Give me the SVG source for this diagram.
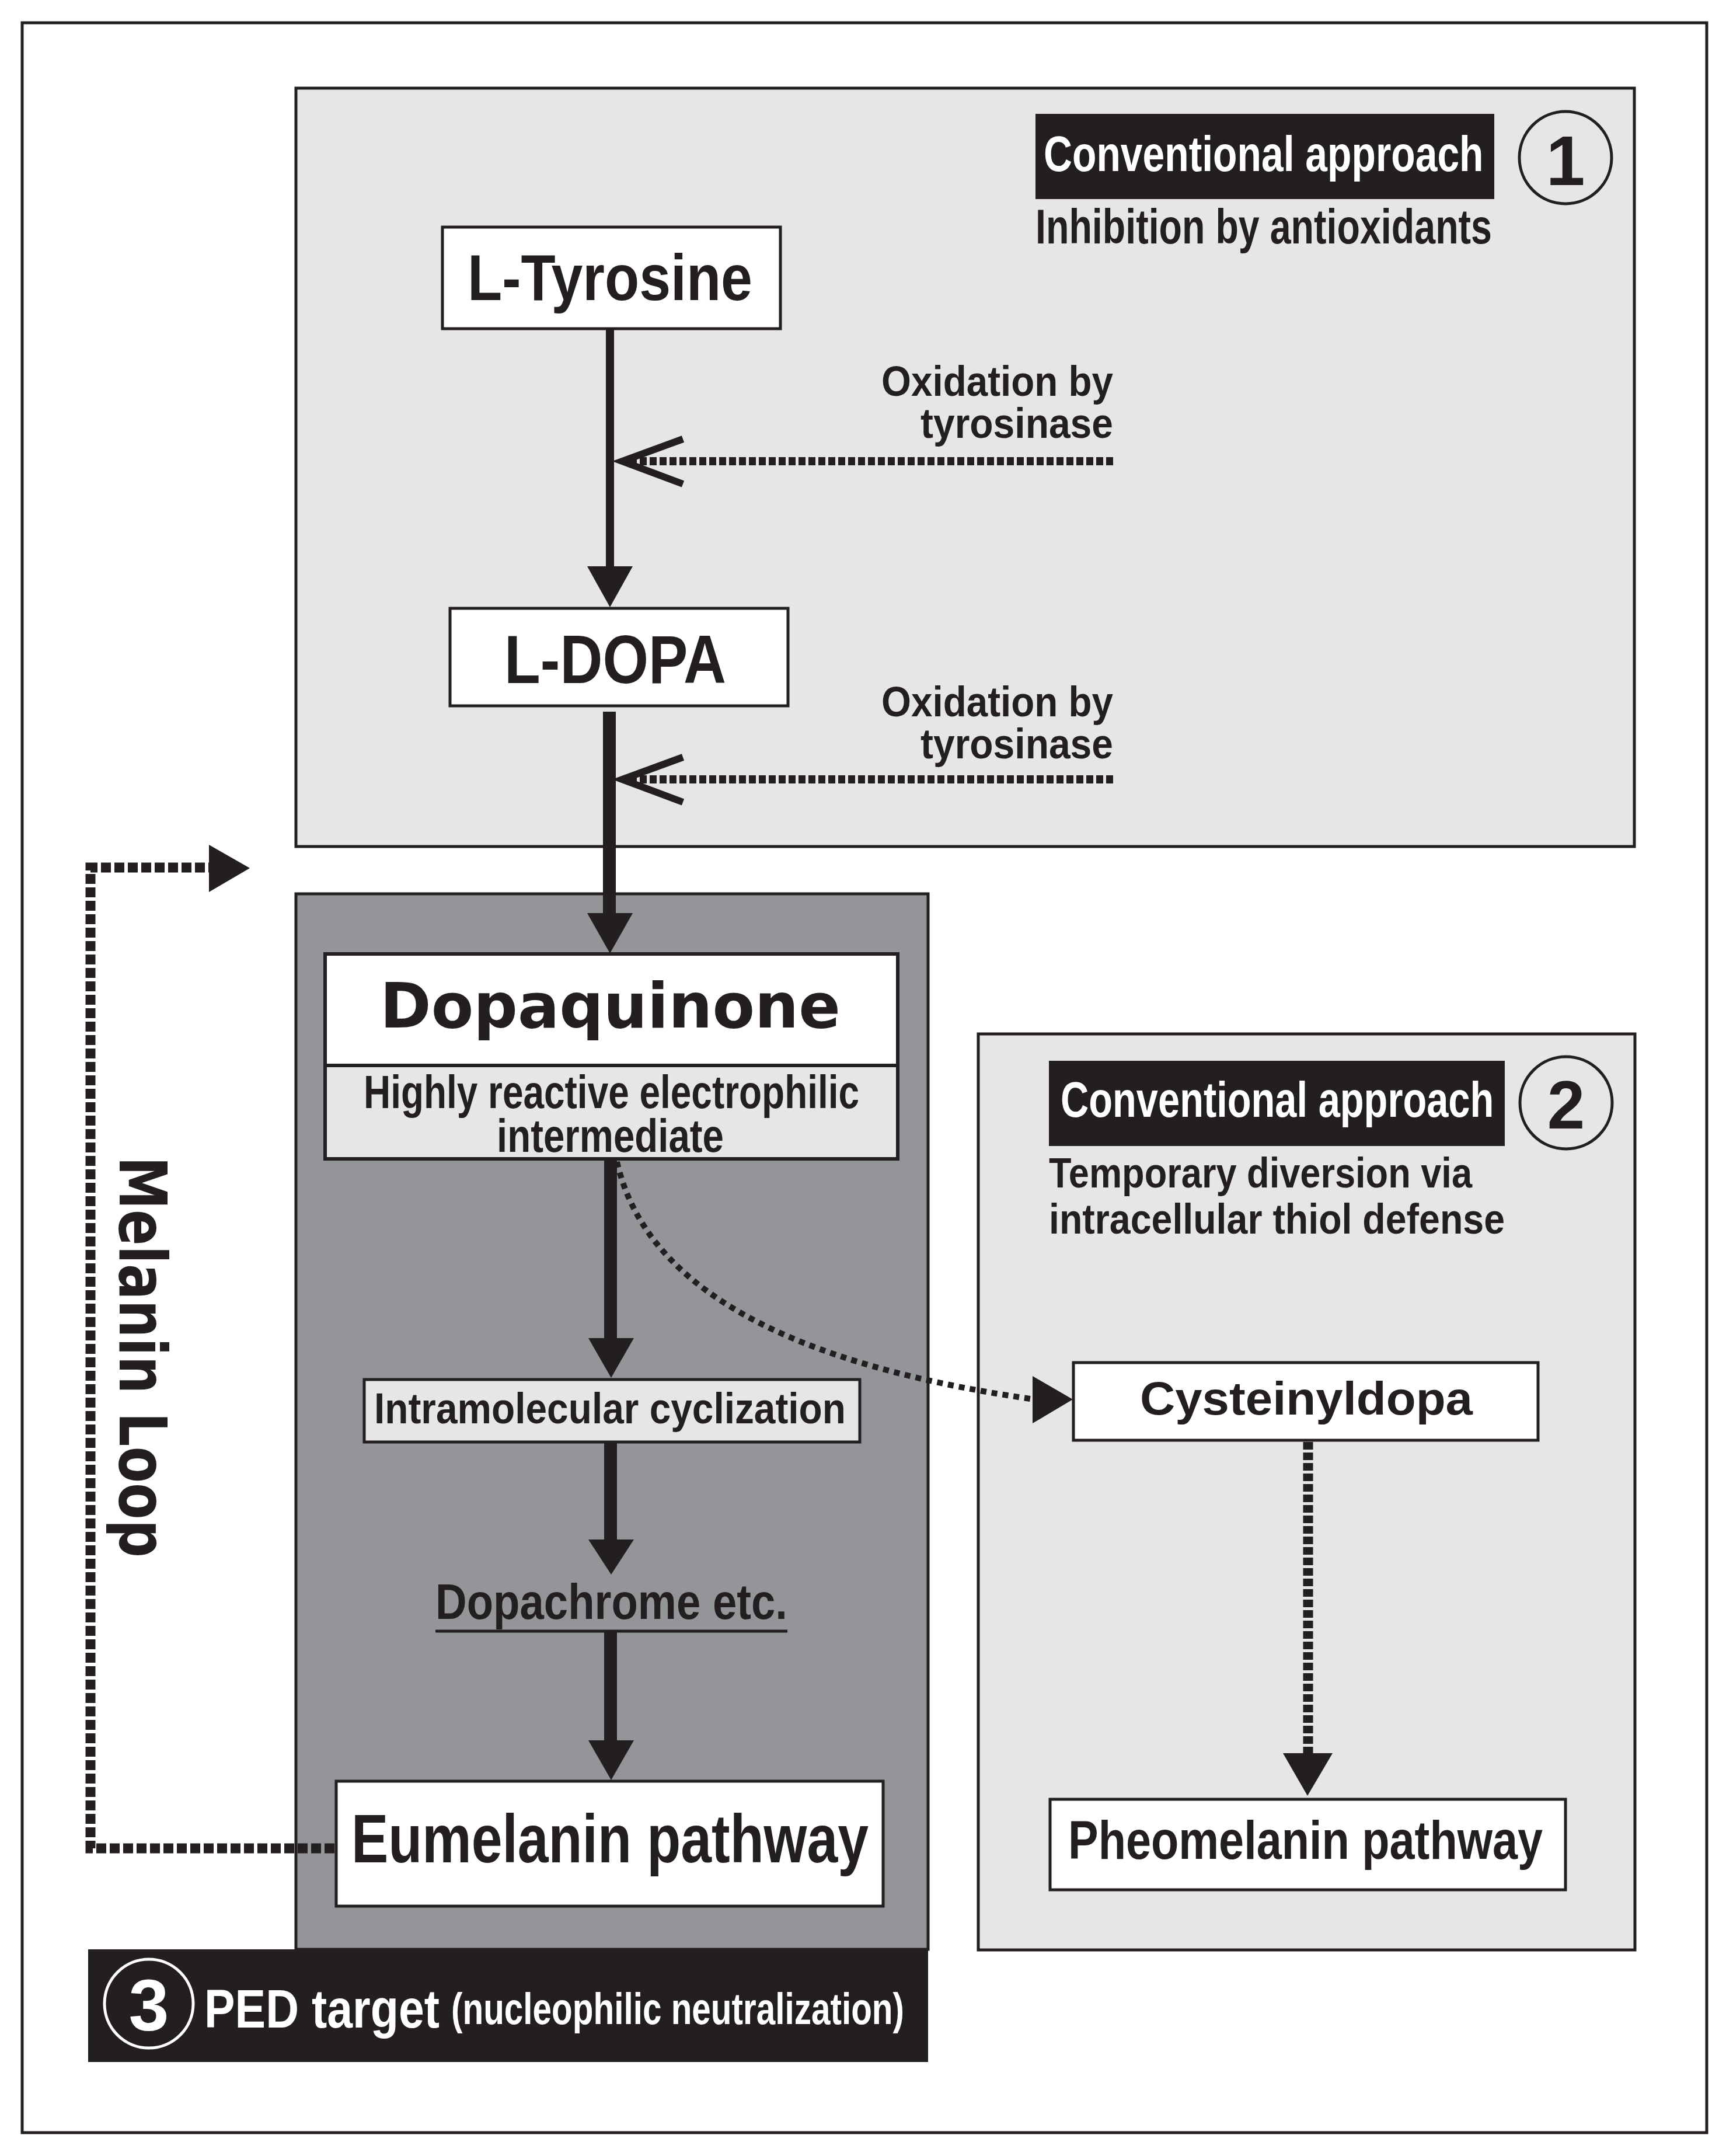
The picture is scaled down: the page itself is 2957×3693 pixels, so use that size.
<svg xmlns="http://www.w3.org/2000/svg" width="2957" height="3693" viewBox="0 0 2957 3693">
<style>
.frame{fill:#ffffff;stroke:#231f20;stroke-width:5}
.light{fill:#e6e6e7;stroke:#231f20;stroke-width:5}
.dark{fill:#939598;stroke:#231f20;stroke-width:5}
.blk{fill:#231f20}
.box{fill:#ffffff;stroke:#231f20;stroke-width:5}
.lbox{fill:#e6e6e7;stroke:#231f20;stroke-width:5}
.t{font-family:"Liberation Sans",Arial,sans-serif;fill:#231f20;font-weight:bold}
.w{fill:#ffffff}
.wide{font-family:"DejaVu Sans",Verdana,sans-serif;font-weight:bold;fill:#231f20}
.solid{stroke:#231f20;fill:none}
.dash{stroke:#231f20;fill:none;stroke-width:14;stroke-dasharray:12 5}
.head{fill:#231f20}
.chev{stroke:#231f20;stroke-width:12;fill:none}
</style>
<rect class="frame" x="38" y="39" width="2886" height="3614"/>

<g id="region1">
<rect class="light" x="507" y="151" width="2293" height="1299"/>
<rect class="blk" x="1774" y="195" width="786" height="146"/>
<text class="t w" transform="translate(1788,293) scale(0.798,1)" x="0" y="0" font-size="85">Conventional approach</text>
<circle cx="2682" cy="270" r="79" fill="none" stroke="#231f20" stroke-width="5"/>
<text class="t" x="2682" y="317" font-size="120" text-anchor="middle">1</text>
<text class="t" x="1774" y="417" font-size="84" textLength="782" lengthAdjust="spacingAndGlyphs">Inhibition by antioxidants</text>
</g>

<g id="region3">
<rect class="dark" x="507" y="1531" width="1083" height="1808"/>
<rect class="blk" x="151" y="3339" width="1439" height="193"/>
<circle cx="255" cy="3432" r="76" fill="none" stroke="#ffffff" stroke-width="5"/>
<text class="t w" x="255" y="3478" font-size="124" text-anchor="middle">3</text>
<text class="t w" x="350" y="3473" font-size="92" textLength="403" lengthAdjust="spacingAndGlyphs">PED target</text>
<text class="t w" x="773" y="3467" font-size="76" textLength="776" lengthAdjust="spacingAndGlyphs">(nucleophilic neutralization)</text>
</g>

<g id="region2">
<rect class="light" x="1676" y="1771" width="1125" height="1569"/>
<rect class="blk" x="1797" y="1817" width="781" height="146"/>
<text class="t w" transform="translate(1817,1913) scale(0.786,1)" x="0" y="0" font-size="85">Conventional approach</text>
<circle cx="2683" cy="1889" r="79" fill="none" stroke="#231f20" stroke-width="5"/>
<text class="t" x="2683" y="1933" font-size="116" text-anchor="middle">2</text>
<text class="t" x="1797" y="2034" font-size="72" textLength="725" lengthAdjust="spacingAndGlyphs">Temporary diversion via</text>
<text class="t" x="1797" y="2113" font-size="72" textLength="781" lengthAdjust="spacingAndGlyphs">intracellular thiol defense</text>
</g>

<g id="ltyrosine">
<rect class="box" x="758" y="389" width="579" height="174"/>
<text class="t" x="801" y="514" font-size="112" textLength="488" lengthAdjust="spacingAndGlyphs">L-Tyrosine</text>
</g>

<g id="ldopa">
<rect class="box" x="771" y="1042" width="579" height="167"/>
<text class="t" x="864" y="1170" font-size="116" textLength="380" lengthAdjust="spacingAndGlyphs">L-DOPA</text>
</g>

<g id="oxidation1">
<text class="t" x="1907" y="678" font-size="72" text-anchor="end" textLength="397" lengthAdjust="spacingAndGlyphs">Oxidation by</text>
<text class="t" x="1907" y="750" font-size="72" text-anchor="end" textLength="330" lengthAdjust="spacingAndGlyphs">tyrosinase</text>
</g>

<g id="oxidation2">
<text class="t" x="1907" y="1227" font-size="72" text-anchor="end" textLength="397" lengthAdjust="spacingAndGlyphs">Oxidation by</text>
<text class="t" x="1907" y="1299" font-size="72" text-anchor="end" textLength="330" lengthAdjust="spacingAndGlyphs">tyrosinase</text>
</g>

<g id="dopaquinone">
<rect x="557" y="1634" width="981" height="191" fill="#ffffff"/>
<rect x="557" y="1825" width="981" height="160" fill="#e6e6e7"/>
<rect x="557" y="1634" width="981" height="351" fill="none" stroke="#231f20" stroke-width="6"/>
<line x1="557" y1="1825" x2="1538" y2="1825" stroke="#231f20" stroke-width="6"/>
<text class="wide" x="651" y="1760" font-size="107" textLength="789" lengthAdjust="spacingAndGlyphs">Dopaquinone</text>
<text class="t" x="623" y="1898" font-size="80" textLength="849" lengthAdjust="spacingAndGlyphs">Highly reactive electrophilic</text>
<text class="t" x="851" y="1973" font-size="80" textLength="389" lengthAdjust="spacingAndGlyphs">intermediate</text>
</g>

<g id="cyclization">
<rect class="lbox" x="624" y="2363" width="849" height="107"/>
<text class="t" x="641" y="2438" font-size="74" textLength="808" lengthAdjust="spacingAndGlyphs">Intramolecular cyclization</text>
</g>

<g id="dopachrome">
<text class="t" x="746" y="2773" font-size="86" textLength="603" lengthAdjust="spacingAndGlyphs">Dopachrome etc.</text>
<line x1="746" y1="2794" x2="1349" y2="2794" stroke="#231f20" stroke-width="5"/>
</g>

<g id="eumelanin">
<rect class="box" x="576" y="3051" width="937" height="214"/>
<text class="t" x="602" y="3190" font-size="117" textLength="886" lengthAdjust="spacingAndGlyphs">Eumelanin pathway</text>
</g>

<g id="cysteinyldopa">
<rect class="box" x="1839" y="2334" width="796" height="133"/>
<text class="t" x="1953" y="2423" font-size="80" textLength="570" lengthAdjust="spacingAndGlyphs">Cysteinyldopa</text>
</g>

<g id="pheomelanin">
<rect class="box" x="1799" y="3082" width="883" height="155"/>
<text class="t" x="1830" y="3184" font-size="92" textLength="813" lengthAdjust="spacingAndGlyphs">Pheomelanin pathway</text>
</g>

<g id="melaninloop-label">
<text class="wide" transform="translate(205,1981) rotate(90)" x="0" y="0" font-size="112" textLength="687" lengthAdjust="spacingAndGlyphs">Melanin Loop</text>
</g>

<g id="connectors">
<line class="solid" x1="1045" y1="563" x2="1045" y2="975" stroke-width="14"/>
<polygon class="head" points="1006,970 1084,970 1045,1040"/>

<line class="dash" x1="1907" y1="790" x2="1078" y2="790"/>
<polyline class="chev" points="1170,752 1066,790 1170,829"/>
<line class="dash" x1="1907" y1="1335" x2="1078" y2="1335"/>
<polyline class="chev" points="1170,1297 1066,1335 1170,1374"/>

<line class="solid" x1="1044" y1="1219" x2="1044" y2="1570" stroke-width="22"/>
<polygon class="head" points="1006,1564 1084,1564 1045,1633"/>

<line class="solid" x1="1046" y1="1985" x2="1046" y2="2296" stroke-width="22"/>
<polygon class="head" points="1008,2292 1086,2292 1047,2360"/>

<line class="solid" x1="1046" y1="2470" x2="1046" y2="2640" stroke-width="22"/>
<polygon class="head" points="1008,2637 1086,2637 1047,2697"/>

<line class="solid" x1="1046" y1="2796" x2="1046" y2="2985" stroke-width="22"/>
<polygon class="head" points="1008,2981 1086,2981 1047,3049"/>

<path d="M 1057 1990 C 1100 2180, 1300 2330, 1772 2397" fill="none" stroke="#231f20" stroke-width="10" stroke-dasharray="10 9"/>
<polygon class="head" points="1769,2357 1838,2397 1769,2438"/>

<line x1="2241" y1="2470" x2="2241" y2="3006" stroke="#231f20" stroke-width="17" stroke-dasharray="13 5"/>
<polygon class="head" points="2198,3003 2283,3003 2240,3076"/>

<path d="M 573 3166 L 155 3166 L 155 1486 L 362 1486" fill="none" stroke="#231f20" stroke-width="17" stroke-dasharray="17 6"/>
<polygon class="head" points="358,1447 428,1487 358,1528"/>
</g>
</svg>
